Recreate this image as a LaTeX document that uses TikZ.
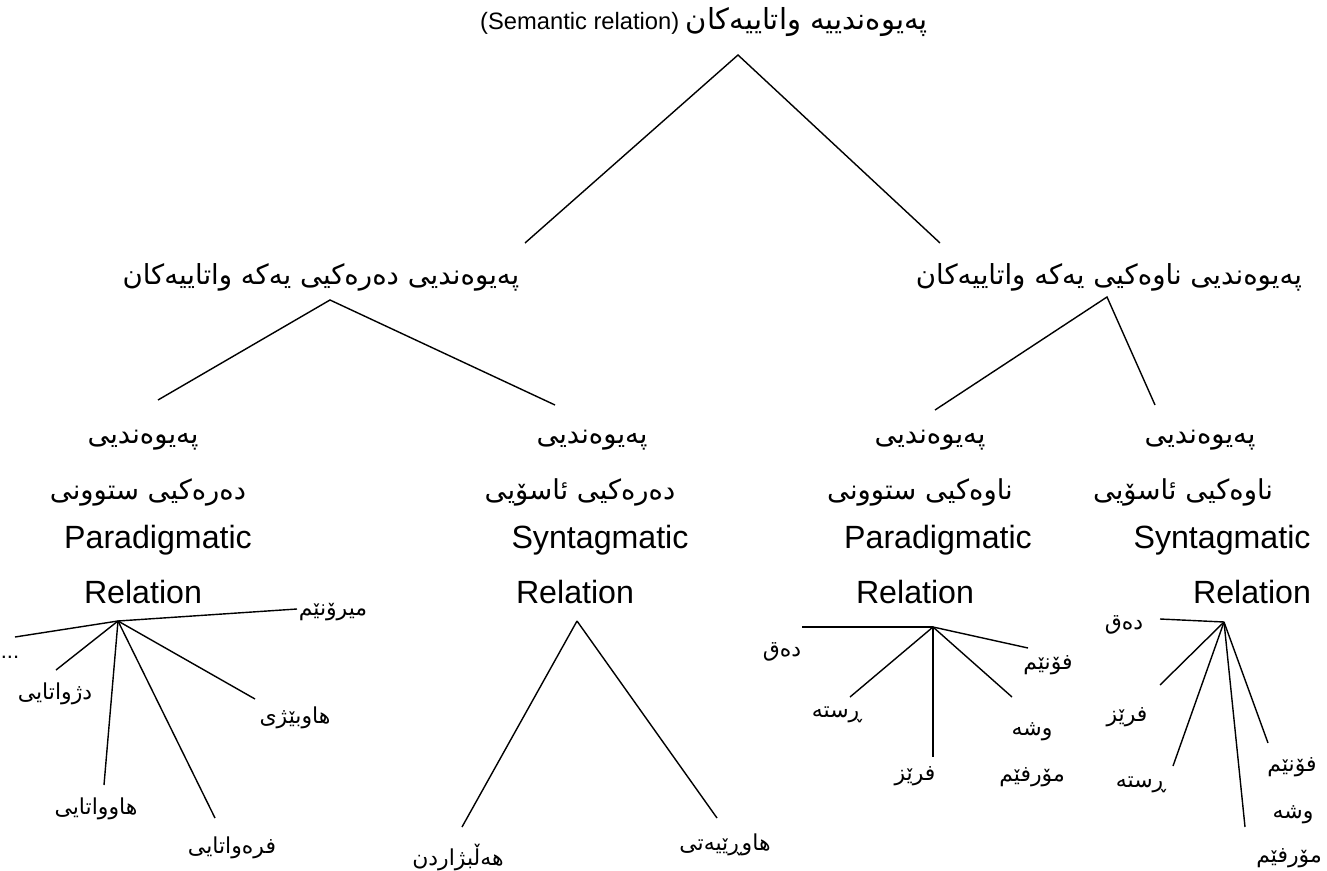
\documentclass[tikz,border=0pt]{standalone}
\usepackage{fontspec}
\setmainfont{Liberation Sans}
\newfontfamily\arabicfont[Script=Arabic]{DejaVu Sans}
\TeXXeTstate=1
\usetikzlibrary{positioning}
\newcommand{\kur}[1]{{\arabicfont\beginR #1\endR}}

\tikzset{
  rel/.style={line width=0.8pt},
  toplabel/.style={font=\fontsize{13.5}{16}\selectfont, inner sep=0pt},
  midlabel/.style={font=\fontsize{15.7}{18}\selectfont, inner sep=0pt},
  relline/.style={font=\fontsize{18.3}{22}\selectfont, inner sep=0pt},
  relku/.style={font=\fontsize{15.6}{19}\selectfont, inner sep=0pt},
  leaf/.style={font=\fontsize{12.5}{15}\selectfont, inner sep=0pt},
}

\begin{document}
\begin{tikzpicture}[x=0.02cm, y=-0.02cm]
  \useasboundingbox (0,0) rectangle (1327,871);

  % top
  \node[toplabel] (sem) at (704,22) {(Semantic relation) {\fontsize{16.5}{19}\selectfont\kur{پەیوەندییە واتاییەکان}}};
  \coordinate (sem-a) at (738,55);
  \coordinate (sem-l) at (525,243);
  \coordinate (sem-r) at (940,243);
  \draw[rel] (sem-l) -- (sem-a) -- (sem-r);

  % second level
  \node[midlabel] (ext) at (321,277) {\kur{پەیوەندیی دەرەکیی یەکە واتاییەکان}};
  \node[midlabel] (int) at (1109,277) {\kur{پەیوەندیی ناوەکیی یەکە واتاییەکان}};
  \coordinate (ext-a) at (330,300);
  \coordinate (ext-l) at (158,400);
  \coordinate (ext-r) at (555,405);
  \coordinate (int-a) at (1107,297);
  \coordinate (int-l) at (935,410);
  \coordinate (int-r) at (1155,405);
  \draw[rel] (ext-l) -- (ext-a) -- (ext-r);
  \draw[rel] (int-l) -- (int-a) -- (int-r);

  % third level
  \node[relku] (ep-1) at (143,440) {\kur{پەیوەندیی}};
  \node[relku] (ep-2) at (148,492) {\kur{دەرەکیی ستوونی}};
  \node[relline] (ep-3) at (158,540) {Paradigmatic};
  \node[relline] (ep-4) at (143,592) {Relation};

  \node[relku] (es-1) at (592,440) {\kur{پەیوەندیی}};
  \node[relku] (es-2) at (580,492) {\kur{دەرەکیی ئاسۆیی}};
  \node[relline] (es-3) at (600,540) {Syntagmatic};
  \node[relline] (es-4) at (575,592) {Relation};

  \node[relku] (ip-1) at (930,440) {\kur{پەیوەندیی}};
  \node[relku] (ip-2) at (920,492) {\kur{ناوەکیی ستوونی}};
  \node[relline] (ip-3) at (938,540) {Paradigmatic};
  \node[relline] (ip-4) at (915,592) {Relation};

  \node[relku] (is-1) at (1200,440) {\kur{پەیوەندیی}};
  \node[relku] (is-2) at (1183,492) {\kur{ناوەکیی ئاسۆیی}};
  \node[relline] (is-3) at (1222,540) {Syntagmatic};
  \node[relline] (is-4) at (1252,592) {Relation};

  % leaves: external paradigmatic
  \coordinate (epx) at (118,621);
  \coordinate (epx-a) at (15,637);
  \coordinate (epx-b) at (297,609);
  \coordinate (epx-c) at (56,670);
  \coordinate (epx-d) at (255,699);
  \coordinate (epx-e) at (104,785);
  \coordinate (epx-f) at (215,818);
  \foreach \e in {a,b,c,d,e,f}
    \draw[rel] (epx) -- (epx-\e);
  \node[leaf] (mero) at (333,612) {\kur{میرۆنێم}};
  \node[leaf] (etc) at (10,657) {...};
  \node[leaf] (anto) at (55,694) {\kur{دژواتایی}};
  \node[leaf] (homo) at (295,718) {\kur{هاوبێژی}};
  \node[leaf] (syno) at (96,809) {\kur{هاوواتایی}};
  \node[leaf] (poly) at (232,848) {\kur{فرەواتایی}};

  % leaves: external syntagmatic
  \coordinate (esx) at (577,621);
  \coordinate (esx-a) at (462,827);
  \coordinate (esx-b) at (717,818);
  \foreach \e in {a,b}
    \draw[rel] (esx) -- (esx-\e);
  \node[leaf] (sel) at (458,858) {\kur{هەڵبژاردن}};
  \node[leaf] (coll) at (725,845) {\kur{هاوڕێیەتی}};

  % leaves: internal paradigmatic
  \coordinate (ipx) at (933,627);
  \coordinate (ipx-a) at (802,627);
  \coordinate (ipx-b) at (850,697);
  \coordinate (ipx-c) at (933,757);
  \coordinate (ipx-d) at (1012,697);
  \coordinate (ipx-e) at (1028,648);
  \foreach \e in {a,b,c,d,e}
    \draw[rel] (ipx) -- (ipx-\e);
  \node[leaf] (ip-text) at (782,652) {\kur{دەق}};
  \node[leaf] (ip-sent) at (837,715) {\kur{ڕستە}};
  \node[leaf] (ip-phr) at (915,776) {\kur{فرێز}};
  \node[leaf] (ip-word) at (1032,732) {\kur{وشە}};
  \node[leaf] (ip-morph) at (1032,777) {\kur{مۆرفێم}};
  \node[leaf] (ip-phon) at (1048,665) {\kur{فۆنێم}};

  % leaves: internal syntagmatic
  \coordinate (isx) at (1224,622);
  \coordinate (isx-a) at (1160,619);
  \coordinate (isx-b) at (1160,685);
  \coordinate (isx-c) at (1173,766);
  \coordinate (isx-d) at (1245,827);
  \coordinate (isx-e) at (1268,743);
  \foreach \e in {a,b,c,d,e}
    \draw[rel] (isx) -- (isx-\e);
  \node[leaf] (is-text) at (1124,625) {\kur{دەق}};
  \node[leaf] (is-phr) at (1127,717) {\kur{فرێز}};
  \node[leaf] (is-sent) at (1141,785) {\kur{ڕستە}};
  \node[leaf] (is-phon) at (1292,767) {\kur{فۆنێم}};
  \node[leaf] (is-word) at (1293,815) {\kur{وشە}};
  \node[leaf] (is-morph) at (1289,858) {\kur{مۆرفێم}};
\end{tikzpicture}
\end{document}
